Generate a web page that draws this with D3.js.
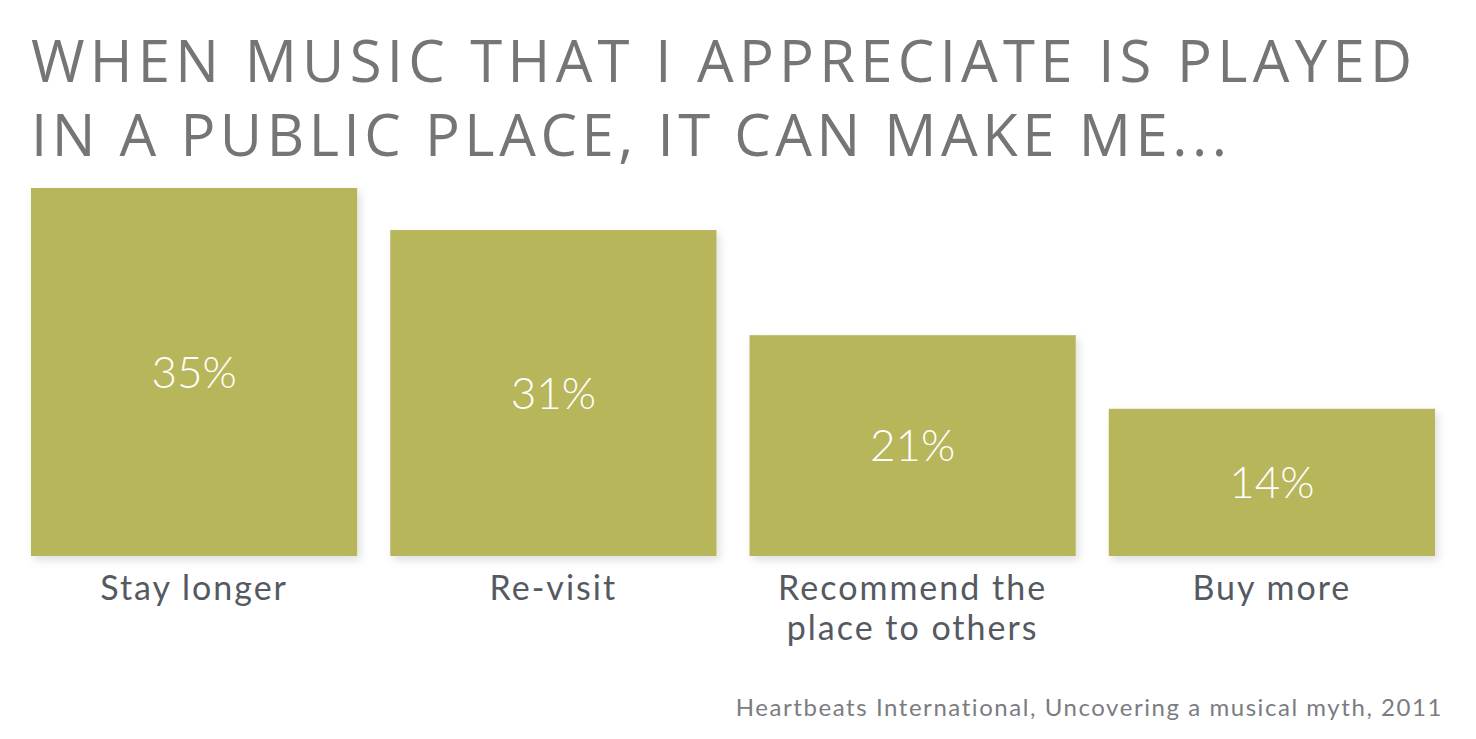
<!DOCTYPE html>
<html>
<head>
<meta charset="utf-8">
<script src="https://cdn.jsdelivr.net/npm/d3@7"></script>
<style>
    html, body { margin: 0; padding: 0; background: #fff; }
    svg { display: block; }
</style>
</head>
<body>
<div id="chart"></div>
<script>
// chart data
const categories = ["Stay longer", "Re-visit", "Recommend the|place to others", "Buy more"];
const values = [35, 31, 21, 14];
const titleLines = ["WHEN MUSIC THAT I APPRECIATE IS PLAYED", "IN A PUBLIC PLACE, IT CAN MAKE ME..."];
const source = "Heartbeats International, Uncovering a musical myth, 2011";

document.addEventListener("DOMContentLoaded", draw)

function draw() {
    const width = 1476;
    const height = 739;
    const font = "Lato, 'Open Sans', sans-serif";
    const titleFont = "'Open Sans', Lato, sans-serif";

    const svg = d3.select("#chart").append("svg")
        .attr("width", width)
        .attr("height", height);

    const filter = svg.append("defs").append("filter")
        .attr("id", "shadow")
        .attr("x", "-10%").attr("y", "-10%")
        .attr("width", "130%").attr("height", "130%");
    filter.append("feDropShadow")
        .attr("dx", 3).attr("dy", 4)
        .attr("stdDeviation", 4)
        .attr("flood-color", "#000")
        .attr("flood-opacity", 0.13);

    // title, stretched with letter spacing to reach the target width
    const titleWidths = [1381, 1196];
    svg.append("g")
        .selectAll("text")
        .data(titleLines)
        .enter()
        .append("text")
        .attr("x", 31)
        .attr("y", (d, i) => 82 + i * 74)
        .attr("font-family", titleFont)
        .attr("font-weight", 400)
        .attr("font-size", 58)
        .attr("fill", "#757575")
        .text(d => d)
        .each(function (d, i) { fitWidth(this, titleWidths[i]); });

    const x = d3.scaleBand()
        .domain(categories)
        .range([31, 1435])
        .paddingInner(0.092)
        .paddingOuter(0);

    const y = d3.scaleLinear()
        .domain([0, 35])
        .range([556, 188]);

    const bars = svg.append("g");

    bars.selectAll("rect")
        .data(values)
        .enter()
        .append("rect")
        .attr("x", (d, i) => x(categories[i]))
        .attr("y", d => y(d))
        .attr("width", x.bandwidth())
        .attr("height", d => y(0) - y(d))
        .attr("fill", "#b8b65a")
        .attr("filter", "url(#shadow)");

    bars.selectAll("text.value")
        .data(values)
        .enter()
        .append("text")
        .attr("class", "value")
        .attr("x", (d, i) => x(categories[i]) + x.bandwidth() / 2)
        .attr("y", d => (y(d) + y(0)) / 2)
        .attr("dy", "0.36em")
        .attr("text-anchor", "middle")
        .attr("font-family", font)
        .attr("font-weight", 300)
        .attr("font-size", 44)
        .attr("fill", "#fff")
        .text(d => d + "%");

    // category labels, "|" marks a line break
    const labels = svg.append("g")
        .selectAll("text")
        .data(categories)
        .enter()
        .append("text")
        .attr("x", d => x(d) + x.bandwidth() / 2)
        .attr("y", 600)
        .attr("text-anchor", "middle")
        .attr("font-family", font)
        .attr("font-size", 34)
        .attr("letter-spacing", 2)
        .attr("fill", "#555961");

    labels.selectAll("tspan")
        .data(d => d.split("|"))
        .enter()
        .append("tspan")
        .attr("x", function () { return this.parentNode.getAttribute("x"); })
        .attr("dy", (d, i) => i === 0 ? 0 : 40)
        .text(d => d);

    svg.append("text")
        .attr("x", 1443)
        .attr("y", 716)
        .attr("text-anchor", "end")
        .attr("font-family", font)
        .attr("font-weight", 400)
        .attr("font-size", 24)
        .attr("fill", "#7a7c82")
        .text(source)
        .each(function () { fitWidth(this, 706); });
}

function fitWidth(node, target) {
    const text = d3.select(node);
    const n = text.text().length;
    const w = node.getComputedTextLength();
    text.attr("letter-spacing", (target - w) / Math.max(n - 1, 1));
}
</script>
</body>
</html>
